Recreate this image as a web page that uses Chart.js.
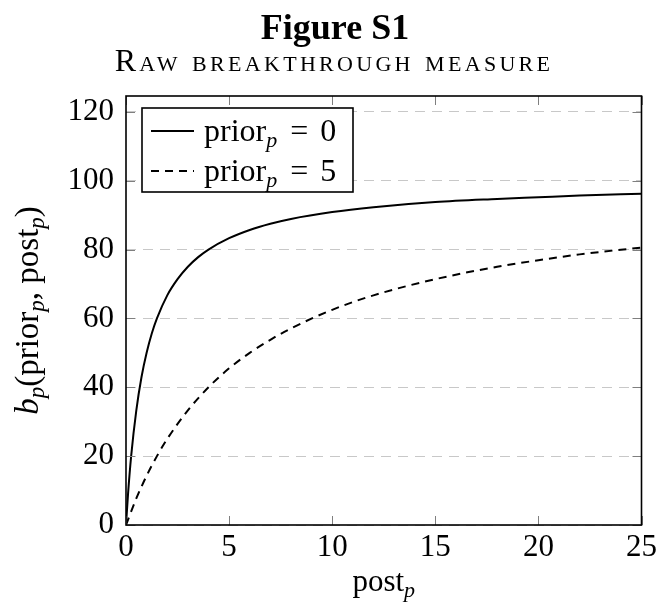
<!DOCTYPE html>
<html>
<head>
<meta charset="utf-8">
<script src="https://cdn.jsdelivr.net/npm/chart.js@4.4.1/dist/chart.umd.min.js"></script>
<style>
html,body{margin:0;padding:0;background:#fff;}
#wrap{width:661px;height:610px;}
</style>
</head>
<body>
<div id="wrap"><canvas id="c" width="661" height="610"></canvas></div>
<script>
// ---- data ----
const titleText = 'Figure S1';
const subtitleText = 'Raw breakthrough measure';
const xLabelMain = 'post';
const yLabelParts = ['b', '(prior', ', post', ')'];
const seriesNames = ['0', '5'];

const xTicks = [0, 5, 10, 15, 20, 25];
const yTicks = [0, 20, 40, 60, 80, 100, 120];

const solidX = [0, 0.1, 0.25, 0.5, 0.75, 1, 1.25, 1.5, 2, 2.5, 3, 3.5, 4, 5, 6, 7, 8, 10, 12, 15, 18, 20, 22, 25];
const solidY = [0, 9.1, 20, 33.3, 42.9, 50, 55.6, 60, 66.7, 71.4, 75, 77.8, 80, 83.3, 85.7, 87.5, 88.9, 90.9, 92.3, 93.8, 94.7, 95.2, 95.7, 96.2];

const dashX = [0, 0.5, 1, 1.5, 2, 3, 4, 5, 6, 7, 8, 10, 12, 15, 18, 20, 22, 25];
const dashY = [0, 7.7, 14.3, 20, 25, 33.3, 40, 45.5, 50, 53.8, 57.1, 62.5, 66.7, 71.4, 75, 76.9, 78.6, 80.6];

const FONT = '"Liberation Serif", "Times New Roman", serif';

function pts(xs, ys){ return xs.map((x,i)=>({x:x, y:ys[i]})); }

// draw sequence of segments: {t, size, italic, bold, dy, gap}
function drawRich(ctx, segs, x, y, align){
  let total = 0;
  segs.forEach(s=>{
    if (s.gap){ s.w = s.gap; total += s.gap; return; }
    ctx.font = (s.italic?'italic ':'') + (s.bold?'bold ':'') + s.size + 'px ' + FONT;
    s.w = ctx.measureText(s.t).width;
    total += s.w;
  });
  let cx = align === 'center' ? x - total/2 : x;
  segs.forEach(s=>{
    if (!s.gap){
      ctx.font = (s.italic?'italic ':'') + (s.bold?'bold ':'') + s.size + 'px ' + FONT;
      ctx.fillText(s.t, cx, y + (s.dy||0));
    }
    cx += s.w;
  });
  return total;
}

const decorPlugin = {
  id: 'decor',
  afterDatasetsDraw(chart){
    const ctx = chart.ctx;
    const a = chart.chartArea;
    const xs = chart.scales.x, ys = chart.scales.y;
    ctx.save();
    ctx.textAlign = 'left';
    ctx.textBaseline = 'alphabetic';
    // inward tick marks
    ctx.strokeStyle = '#7f7f7f';
    ctx.lineWidth = 1;
    const tl = 9;
    xTicks.forEach(v=>{
      const px = Math.round(xs.getPixelForValue(v)) + 0.5;
      ctx.beginPath();
      ctx.moveTo(px, a.bottom); ctx.lineTo(px, a.bottom - tl);
      ctx.moveTo(px, a.top); ctx.lineTo(px, a.top + tl);
      ctx.stroke();
    });
    yTicks.forEach(v=>{
      const py = Math.round(ys.getPixelForValue(v)) + 0.5;
      ctx.beginPath();
      ctx.moveTo(a.left, py); ctx.lineTo(a.left + tl, py);
      ctx.moveTo(a.right, py); ctx.lineTo(a.right - tl, py);
      ctx.stroke();
    });
    // frame
    ctx.strokeStyle = '#000';
    ctx.lineWidth = 1.6;
    ctx.strokeRect(a.left, a.top, a.right - a.left, a.bottom - a.top);

    // legend box
    const lx = a.left + 16, ly = a.top + 12, lw = 211, lh = 84;
    ctx.fillStyle = '#fff';
    ctx.fillRect(lx, ly, lw, lh);
    ctx.lineWidth = 1.6;
    ctx.strokeRect(lx, ly, lw, lh);
    ctx.fillStyle = '#000';
    chart.data.datasets.forEach((ds, i)=>{
      const cy = ly + 23 + i * 40;
      ctx.beginPath();
      ctx.lineWidth = 2;
      ctx.strokeStyle = '#000';
      ctx.setLineDash(ds.borderDash || []);
      ctx.moveTo(lx + 9, cy); ctx.lineTo(lx + 52, cy);
      ctx.stroke();
      ctx.setLineDash([]);
      drawRich(ctx, [
        {t:'prior', size:32},
        {t:'p', size:22, italic:true, dy:6},
        {gap:13},
        {t:'=', size:32},
        {gap:12},
        {t:seriesNames[i], size:32}
      ], lx + 62, cy + 10, 'left');
    });

    // titles
    ctx.fillStyle = '#000';
    drawRich(ctx, [{t:titleText, size:36, bold:true}], 335, 39, 'center');
    ctx.font = 'small-caps 32px ' + FONT;
    if ('letterSpacing' in ctx) ctx.letterSpacing = '3.3px';
    const sw = ctx.measureText(subtitleText).width;
    ctx.fillText(subtitleText, 334 - sw/2, 71);
    if ('letterSpacing' in ctx) ctx.letterSpacing = '0px';

    // x label
    drawRich(ctx, [
      {t:xLabelMain, size:31},
      {t:'p', size:22, italic:true, dy:6}
    ], (a.left + a.right)/2, 591, 'center');

    // y label (rotated)
    ctx.translate(28, (a.top + a.bottom)/2);
    ctx.rotate(-Math.PI/2);
    drawRich(ctx, [
      {t:yLabelParts[0], size:33, italic:true},
      {t:'p', size:23, italic:true, dy:6},
      {t:yLabelParts[1], size:33},
      {t:'p', size:23, italic:true, dy:6},
      {t:yLabelParts[2], size:33},
      {t:'p', size:23, italic:true, dy:6},
      {t:yLabelParts[3], size:33}
    ], 0, 10, 'center');
    ctx.restore();
  }
};

new Chart(document.getElementById('c'), {
  type: 'line',
  data: {
    datasets: [
      { label: 'prior_p = 0', data: pts(solidX, solidY), borderColor:'#000', borderWidth:2, pointRadius:0, fill:false, cubicInterpolationMode:'monotone' },
      { label: 'prior_p = 5', data: pts(dashX, dashY), borderColor:'#000', borderWidth:2, borderDash:[8,6], pointRadius:0, fill:false, cubicInterpolationMode:'monotone' }
    ]
  },
  options: {
    responsive: false,
    animation: false,
    devicePixelRatio: 1,
    layout: { padding: { top: 96, right: 18, left: 0, bottom: 0 } },
    plugins: { legend: { display:false }, title:{display:false}, tooltip:{enabled:false} },
    scales: {
      x: {
        type: 'linear', min: 0, max: 25,
        afterBuildTicks(s){ s.ticks = xTicks.map(v=>({value:v})); },
        afterFit(s){ s.height = 85; },
        grid: { display:false, drawTicks:false },
        border: { display:false },
        ticks: { color:'#000', padding: 4, maxRotation:0, font:{ family: FONT, size:31 } }
      },
      y: {
        type: 'linear', min: 0, max: 124.6,
        afterBuildTicks(s){ s.ticks = yTicks.map(v=>({value:v})); },
        afterFit(s){ s.width = 126; },
        grid: { display:true, drawTicks:false, color:'#c8c8c8', lineWidth:1 },
        border: { display:false, dash:[10,7] },
        ticks: { color:'#000', padding: 12, font:{ family: FONT, size:31 } }
      }
    }
  },
  plugins: [decorPlugin]
});
</script>
</body>
</html>
